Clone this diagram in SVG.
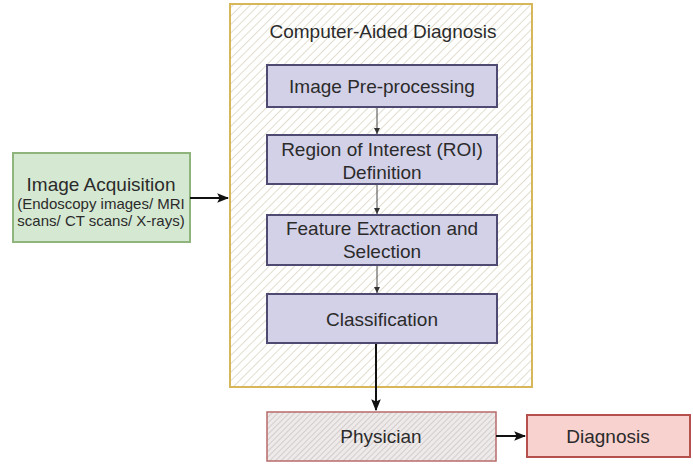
<svg xmlns="http://www.w3.org/2000/svg" width="693" height="465" viewBox="0 0 693 465">
<style>
  text { font-family: "Liberation Sans", Arial, sans-serif; fill: #2b2b2b; text-anchor: middle; }
  .big { font-size: 19px; }
  .small { font-size: 15px; }
  .step { fill: #d3d1e8; stroke: #4e4a72; stroke-width: 2; }
  .thin { stroke: #444; stroke-width: 1; fill: none; }
  .thick { stroke: #111; stroke-width: 2; fill: none; }
</style>
<defs>
  <pattern id="hatchY" patternUnits="userSpaceOnUse" width="6" height="6" patternTransform="rotate(45)">
    <rect width="6" height="6" fill="#ffffff"/>
    <line x1="0" y1="0" x2="0" y2="6" stroke="#cdc9ad" stroke-width="1.2"/>
  </pattern>
  <pattern id="hatchG" patternUnits="userSpaceOnUse" width="4" height="4" patternTransform="rotate(45)">
    <rect width="4" height="4" fill="#efeaea"/>
    <line x1="0" y1="0" x2="0" y2="4" stroke="#b8b0b0" stroke-width="1"/>
  </pattern>
  <marker id="arrS" viewBox="0 0 10 10" refX="10" refY="5" markerWidth="6" markerHeight="6" orient="auto" markerUnits="userSpaceOnUse">
    <path d="M0,0 L10,5 L0,10 Z" fill="#333"/>
  </marker>
  <marker id="arrL" viewBox="0 0 10 10" refX="9" refY="5" markerWidth="12" markerHeight="12" orient="auto" markerUnits="userSpaceOnUse">
    <path d="M0,1 L10,5 L0,9 L2,5 Z" fill="#111"/>
  </marker>
</defs>

<g id="cad">
  <rect x="230" y="4" width="302" height="383" fill="url(#hatchY)" stroke="#d8b75a" stroke-width="2"/>
  <text class="big" x="383" y="38">Computer-Aided Diagnosis</text>
</g>

<g id="acquisition">
  <rect x="13" y="153" width="177" height="89" fill="#d5e8d2" stroke="#8fb57c" stroke-width="2"/>
  <text class="big" x="101" y="191">Image Acquisition</text>
  <text class="small" x="101" y="209">(Endoscopy images/ MRI</text>
  <text class="small" x="101" y="226">scans/ CT scans/ X-rays)</text>
</g>

<g id="preprocessing">
  <rect class="step" x="267" y="65" width="230" height="42"/>
  <text class="big" x="382" y="93">Image Pre-processing</text>
</g>

<g id="roi">
  <rect class="step" x="267" y="135" width="230" height="49"/>
  <text class="big" x="382" y="156">Region of Interest (ROI)</text>
  <text class="big" x="382" y="179">Definition</text>
</g>

<g id="feature">
  <rect class="step" x="267" y="215" width="230" height="50"/>
  <text class="big" x="382" y="235">Feature Extraction and</text>
  <text class="big" x="382" y="258">Selection</text>
</g>

<g id="classification">
  <rect class="step" x="267" y="294" width="230" height="49"/>
  <text class="big" x="382" y="326">Classification</text>
</g>

<g id="physician">
  <rect x="267" y="412" width="229" height="49" fill="url(#hatchG)" stroke="#b86a6a" stroke-width="1.5"/>
  <text class="big" x="381" y="443">Physician</text>
</g>

<g id="diagnosis">
  <rect x="527" y="415" width="163" height="42" fill="#f8d2cf" stroke="#b5504c" stroke-width="2"/>
  <text class="big" x="608" y="443">Diagnosis</text>
</g>

<g id="connectors">
  <line class="thick" x1="190" y1="198" x2="228" y2="198" marker-end="url(#arrL)"/>
  <line class="thin" x1="377" y1="108" x2="377" y2="134" marker-end="url(#arrS)"/>
  <line class="thin" x1="377" y1="185" x2="377" y2="214" marker-end="url(#arrS)"/>
  <line class="thin" x1="377" y1="266" x2="377" y2="293" marker-end="url(#arrS)"/>
  <line class="thick" x1="376" y1="344" x2="376" y2="410" marker-end="url(#arrL)"/>
  <line class="thick" x1="496" y1="436" x2="525" y2="436" marker-end="url(#arrL)"/>
</g>
</svg>
